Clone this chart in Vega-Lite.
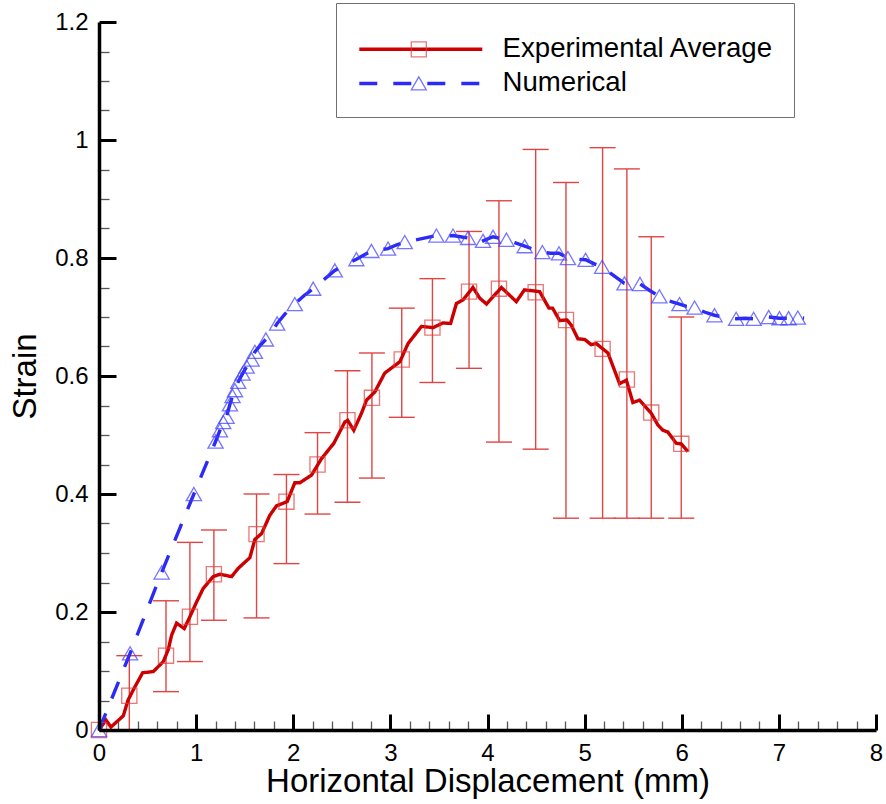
{
  "$schema": "https://vega.github.io/schema/vega-lite/v6.json",
  "width": 777,
  "height": 708,
  "autosize": {"type": "none"},
  "padding": {"left": 99, "top": 22, "right": 10, "bottom": 74},
  "background": "white",
  "config": {
    "view": {"stroke": null},
    "font": "Liberation Sans",
    "axis": {"grid": false, "labelOverlap": false}
  },
  "datasets": {
    "lines": [
      {"s": "Experimental Average", "x": 0, "y": 0},
      {"s": "Experimental Average", "x": 0.072, "y": 0.017},
      {"s": "Experimental Average", "x": 0.123, "y": 0.005},
      {"s": "Experimental Average", "x": 0.25, "y": 0.024},
      {"s": "Experimental Average", "x": 0.3, "y": 0.051},
      {"s": "Experimental Average", "x": 0.353, "y": 0.068},
      {"s": "Experimental Average", "x": 0.449, "y": 0.097},
      {"s": "Experimental Average", "x": 0.559, "y": 0.099},
      {"s": "Experimental Average", "x": 0.662, "y": 0.116},
      {"s": "Experimental Average", "x": 0.713, "y": 0.136},
      {"s": "Experimental Average", "x": 0.748, "y": 0.161},
      {"s": "Experimental Average", "x": 0.799, "y": 0.181},
      {"s": "Experimental Average", "x": 0.878, "y": 0.172},
      {"s": "Experimental Average", "x": 0.936, "y": 0.192},
      {"s": "Experimental Average", "x": 1.005, "y": 0.217},
      {"s": "Experimental Average", "x": 1.073, "y": 0.24},
      {"s": "Experimental Average", "x": 1.176, "y": 0.26},
      {"s": "Experimental Average", "x": 1.245, "y": 0.264},
      {"s": "Experimental Average", "x": 1.365, "y": 0.26},
      {"s": "Experimental Average", "x": 1.433, "y": 0.274},
      {"s": "Experimental Average", "x": 1.553, "y": 0.292},
      {"s": "Experimental Average", "x": 1.605, "y": 0.323},
      {"s": "Experimental Average", "x": 1.674, "y": 0.333},
      {"s": "Experimental Average", "x": 1.759, "y": 0.364},
      {"s": "Experimental Average", "x": 1.828, "y": 0.38},
      {"s": "Experimental Average", "x": 1.937, "y": 0.387},
      {"s": "Experimental Average", "x": 2.016, "y": 0.419},
      {"s": "Experimental Average", "x": 2.068, "y": 0.419},
      {"s": "Experimental Average", "x": 2.188, "y": 0.432},
      {"s": "Experimental Average", "x": 2.291, "y": 0.46},
      {"s": "Experimental Average", "x": 2.418, "y": 0.486},
      {"s": "Experimental Average", "x": 2.531, "y": 0.522},
      {"s": "Experimental Average", "x": 2.56, "y": 0.525},
      {"s": "Experimental Average", "x": 2.623, "y": 0.508},
      {"s": "Experimental Average", "x": 2.703, "y": 0.537},
      {"s": "Experimental Average", "x": 2.754, "y": 0.559},
      {"s": "Experimental Average", "x": 2.84, "y": 0.573},
      {"s": "Experimental Average", "x": 2.942, "y": 0.605},
      {"s": "Experimental Average", "x": 3.097, "y": 0.624},
      {"s": "Experimental Average", "x": 3.182, "y": 0.655},
      {"s": "Experimental Average", "x": 3.32, "y": 0.684},
      {"s": "Experimental Average", "x": 3.44, "y": 0.682},
      {"s": "Experimental Average", "x": 3.542, "y": 0.69},
      {"s": "Experimental Average", "x": 3.62, "y": 0.689},
      {"s": "Experimental Average", "x": 3.68, "y": 0.723},
      {"s": "Experimental Average", "x": 3.748, "y": 0.729},
      {"s": "Experimental Average", "x": 3.85, "y": 0.75},
      {"s": "Experimental Average", "x": 3.92, "y": 0.732},
      {"s": "Experimental Average", "x": 3.99, "y": 0.722},
      {"s": "Experimental Average", "x": 4.143, "y": 0.75},
      {"s": "Experimental Average", "x": 4.297, "y": 0.726},
      {"s": "Experimental Average", "x": 4.38, "y": 0.746},
      {"s": "Experimental Average", "x": 4.537, "y": 0.743},
      {"s": "Experimental Average", "x": 4.633, "y": 0.715},
      {"s": "Experimental Average", "x": 4.67, "y": 0.715},
      {"s": "Experimental Average", "x": 4.743, "y": 0.694},
      {"s": "Experimental Average", "x": 4.818, "y": 0.695},
      {"s": "Experimental Average", "x": 4.863, "y": 0.686},
      {"s": "Experimental Average", "x": 4.931, "y": 0.663},
      {"s": "Experimental Average", "x": 5.0, "y": 0.662},
      {"s": "Experimental Average", "x": 5.069, "y": 0.653},
      {"s": "Experimental Average", "x": 5.12, "y": 0.655},
      {"s": "Experimental Average", "x": 5.24, "y": 0.639},
      {"s": "Experimental Average", "x": 5.36, "y": 0.587},
      {"s": "Experimental Average", "x": 5.43, "y": 0.593},
      {"s": "Experimental Average", "x": 5.497, "y": 0.555},
      {"s": "Experimental Average", "x": 5.566, "y": 0.559},
      {"s": "Experimental Average", "x": 5.686, "y": 0.537},
      {"s": "Experimental Average", "x": 5.754, "y": 0.517},
      {"s": "Experimental Average", "x": 5.806, "y": 0.508},
      {"s": "Experimental Average", "x": 5.857, "y": 0.505},
      {"s": "Experimental Average", "x": 5.943, "y": 0.486},
      {"s": "Experimental Average", "x": 5.995, "y": 0.485},
      {"s": "Experimental Average", "x": 6.063, "y": 0.472},
      {"s": "Numerical", "x": 0, "y": 0},
      {"s": "Numerical", "x": 0.32, "y": 0.13},
      {"s": "Numerical", "x": 0.645, "y": 0.267},
      {"s": "Numerical", "x": 0.977, "y": 0.4},
      {"s": "Numerical", "x": 1.2, "y": 0.489},
      {"s": "Numerical", "x": 1.245, "y": 0.508},
      {"s": "Numerical", "x": 1.279, "y": 0.522},
      {"s": "Numerical", "x": 1.313, "y": 0.531},
      {"s": "Numerical", "x": 1.348, "y": 0.552},
      {"s": "Numerical", "x": 1.375, "y": 0.566},
      {"s": "Numerical", "x": 1.4, "y": 0.576},
      {"s": "Numerical", "x": 1.433, "y": 0.59},
      {"s": "Numerical", "x": 1.478, "y": 0.604},
      {"s": "Numerical", "x": 1.52, "y": 0.616},
      {"s": "Numerical", "x": 1.571, "y": 0.628},
      {"s": "Numerical", "x": 1.605, "y": 0.641},
      {"s": "Numerical", "x": 1.66, "y": 0.652},
      {"s": "Numerical", "x": 1.718, "y": 0.662},
      {"s": "Numerical", "x": 1.78, "y": 0.675},
      {"s": "Numerical", "x": 1.834, "y": 0.689},
      {"s": "Numerical", "x": 1.92, "y": 0.706},
      {"s": "Numerical", "x": 2.016, "y": 0.722},
      {"s": "Numerical", "x": 2.11, "y": 0.736},
      {"s": "Numerical", "x": 2.205, "y": 0.748},
      {"s": "Numerical", "x": 2.32, "y": 0.764},
      {"s": "Numerical", "x": 2.428, "y": 0.779},
      {"s": "Numerical", "x": 2.54, "y": 0.789},
      {"s": "Numerical", "x": 2.65, "y": 0.798},
      {"s": "Numerical", "x": 2.805, "y": 0.812},
      {"s": "Numerical", "x": 2.976, "y": 0.816},
      {"s": "Numerical", "x": 3.06, "y": 0.822},
      {"s": "Numerical", "x": 3.148, "y": 0.827},
      {"s": "Numerical", "x": 3.3, "y": 0.832},
      {"s": "Numerical", "x": 3.474, "y": 0.838},
      {"s": "Numerical", "x": 3.56, "y": 0.837},
      {"s": "Numerical", "x": 3.645, "y": 0.838},
      {"s": "Numerical", "x": 3.72, "y": 0.836},
      {"s": "Numerical", "x": 3.8, "y": 0.834},
      {"s": "Numerical", "x": 3.92, "y": 0.826},
      {"s": "Numerical", "x": 3.954, "y": 0.829},
      {"s": "Numerical", "x": 4.057, "y": 0.836},
      {"s": "Numerical", "x": 4.195, "y": 0.831},
      {"s": "Numerical", "x": 4.28, "y": 0.826},
      {"s": "Numerical", "x": 4.383, "y": 0.82},
      {"s": "Numerical", "x": 4.47, "y": 0.815},
      {"s": "Numerical", "x": 4.565, "y": 0.81},
      {"s": "Numerical", "x": 4.65, "y": 0.808},
      {"s": "Numerical", "x": 4.736, "y": 0.808},
      {"s": "Numerical", "x": 4.828, "y": 0.8},
      {"s": "Numerical", "x": 4.92, "y": 0.798},
      {"s": "Numerical", "x": 5.01, "y": 0.797},
      {"s": "Numerical", "x": 5.1, "y": 0.79},
      {"s": "Numerical", "x": 5.18, "y": 0.785},
      {"s": "Numerical", "x": 5.3, "y": 0.77},
      {"s": "Numerical", "x": 5.41, "y": 0.757},
      {"s": "Numerical", "x": 5.49, "y": 0.755},
      {"s": "Numerical", "x": 5.57, "y": 0.756},
      {"s": "Numerical", "x": 5.67, "y": 0.745},
      {"s": "Numerical", "x": 5.77, "y": 0.735},
      {"s": "Numerical", "x": 5.87, "y": 0.727},
      {"s": "Numerical", "x": 5.977, "y": 0.722},
      {"s": "Numerical", "x": 6.05, "y": 0.718},
      {"s": "Numerical", "x": 6.132, "y": 0.716},
      {"s": "Numerical", "x": 6.24, "y": 0.708},
      {"s": "Numerical", "x": 6.337, "y": 0.703},
      {"s": "Numerical", "x": 6.45, "y": 0.699},
      {"s": "Numerical", "x": 6.56, "y": 0.697},
      {"s": "Numerical", "x": 6.65, "y": 0.698},
      {"s": "Numerical", "x": 6.74, "y": 0.697},
      {"s": "Numerical", "x": 6.82, "y": 0.699},
      {"s": "Numerical", "x": 6.896, "y": 0.7},
      {"s": "Numerical", "x": 7.006, "y": 0.698},
      {"s": "Numerical", "x": 7.1, "y": 0.698},
      {"s": "Numerical", "x": 7.195, "y": 0.699},
      {"s": "Numerical", "x": 7.26, "y": 0.698}
    ],
    "err": [
      {"x": 0.312, "lo": 0, "hi": 0.126},
      {"x": 0.69, "lo": 0.065, "hi": 0.219},
      {"x": 0.936, "lo": 0.116, "hi": 0.318},
      {"x": 1.183, "lo": 0.186, "hi": 0.339},
      {"x": 1.622, "lo": 0.19, "hi": 0.4},
      {"x": 1.93, "lo": 0.282, "hi": 0.433},
      {"x": 2.25, "lo": 0.366, "hi": 0.504},
      {"x": 2.558, "lo": 0.386, "hi": 0.609},
      {"x": 2.81, "lo": 0.427, "hi": 0.639},
      {"x": 3.117, "lo": 0.53, "hi": 0.715},
      {"x": 3.433, "lo": 0.589, "hi": 0.765},
      {"x": 3.81, "lo": 0.613, "hi": 0.845},
      {"x": 4.118, "lo": 0.488, "hi": 0.897},
      {"x": 4.496, "lo": 0.476, "hi": 0.984},
      {"x": 4.808, "lo": 0.359, "hi": 0.928},
      {"x": 5.185, "lo": 0.359, "hi": 0.987},
      {"x": 5.435, "lo": 0.359, "hi": 0.951},
      {"x": 5.686, "lo": 0.359, "hi": 0.836},
      {"x": 5.995, "lo": 0.359, "hi": 0.7}
    ],
    "markers": [
      {"m": "sq", "x": 0, "y": 0},
      {"m": "sq", "x": 0.312, "y": 0.058},
      {"m": "sq", "x": 0.69, "y": 0.126},
      {"m": "sq", "x": 0.936, "y": 0.192},
      {"m": "sq", "x": 1.183, "y": 0.264},
      {"m": "sq", "x": 1.622, "y": 0.332},
      {"m": "sq", "x": 1.93, "y": 0.387},
      {"m": "sq", "x": 2.25, "y": 0.45},
      {"m": "sq", "x": 2.558, "y": 0.525},
      {"m": "sq", "x": 2.81, "y": 0.563},
      {"m": "sq", "x": 3.117, "y": 0.628},
      {"m": "sq", "x": 3.433, "y": 0.682},
      {"m": "sq", "x": 3.81, "y": 0.743},
      {"m": "sq", "x": 4.118, "y": 0.748},
      {"m": "sq", "x": 4.496, "y": 0.742},
      {"m": "sq", "x": 4.808, "y": 0.695},
      {"m": "sq", "x": 5.185, "y": 0.646},
      {"m": "sq", "x": 5.435, "y": 0.594},
      {"m": "sq", "x": 5.686, "y": 0.538},
      {"m": "sq", "x": 5.995, "y": 0.485},
      {"m": "tri", "x": 0, "y": 0},
      {"m": "tri", "x": 0.32, "y": 0.13},
      {"m": "tri", "x": 0.645, "y": 0.267},
      {"m": "tri", "x": 0.977, "y": 0.4},
      {"m": "tri", "x": 1.2, "y": 0.489},
      {"m": "tri", "x": 1.245, "y": 0.508},
      {"m": "tri", "x": 1.279, "y": 0.522},
      {"m": "tri", "x": 1.313, "y": 0.531},
      {"m": "tri", "x": 1.348, "y": 0.552},
      {"m": "tri", "x": 1.375, "y": 0.566},
      {"m": "tri", "x": 1.4, "y": 0.576},
      {"m": "tri", "x": 1.433, "y": 0.59},
      {"m": "tri", "x": 1.478, "y": 0.604},
      {"m": "tri", "x": 1.52, "y": 0.616},
      {"m": "tri", "x": 1.571, "y": 0.628},
      {"m": "tri", "x": 1.605, "y": 0.641},
      {"m": "tri", "x": 1.718, "y": 0.662},
      {"m": "tri", "x": 1.834, "y": 0.689},
      {"m": "tri", "x": 2.016, "y": 0.722},
      {"m": "tri", "x": 2.205, "y": 0.748},
      {"m": "tri", "x": 2.428, "y": 0.779},
      {"m": "tri", "x": 2.65, "y": 0.798},
      {"m": "tri", "x": 2.805, "y": 0.812},
      {"m": "tri", "x": 2.976, "y": 0.816},
      {"m": "tri", "x": 3.148, "y": 0.827},
      {"m": "tri", "x": 3.474, "y": 0.838},
      {"m": "tri", "x": 3.645, "y": 0.838},
      {"m": "tri", "x": 3.8, "y": 0.834},
      {"m": "tri", "x": 3.954, "y": 0.829},
      {"m": "tri", "x": 4.057, "y": 0.836},
      {"m": "tri", "x": 4.195, "y": 0.831},
      {"m": "tri", "x": 4.383, "y": 0.82},
      {"m": "tri", "x": 4.565, "y": 0.81},
      {"m": "tri", "x": 4.736, "y": 0.808},
      {"m": "tri", "x": 4.828, "y": 0.8},
      {"m": "tri", "x": 5.01, "y": 0.797},
      {"m": "tri", "x": 5.18, "y": 0.785},
      {"m": "tri", "x": 5.41, "y": 0.757},
      {"m": "tri", "x": 5.57, "y": 0.756},
      {"m": "tri", "x": 5.77, "y": 0.735},
      {"m": "tri", "x": 5.977, "y": 0.722},
      {"m": "tri", "x": 6.132, "y": 0.716},
      {"m": "tri", "x": 6.337, "y": 0.703},
      {"m": "tri", "x": 6.56, "y": 0.697},
      {"m": "tri", "x": 6.74, "y": 0.697},
      {"m": "tri", "x": 6.896, "y": 0.7},
      {"m": "tri", "x": 7.006, "y": 0.698},
      {"m": "tri", "x": 7.1, "y": 0.698},
      {"m": "tri", "x": 7.195, "y": 0.699}
    ]
  },
  "layer": [
    {
      "data": {"name": "err"},
      "mark": {"type": "rule", "color": "#e04545", "strokeWidth": 1.4},
      "encoding": {
        "x": {
          "field": "x", "type": "quantitative", "title": "Horizontal Displacement (mm)",
          "scale": {"domain": [0, 8], "nice": false, "zero": false},
          "axis": {
            "values": [0,0.2,0.4,0.6,0.8,1,1.2,1.4,1.6,1.8,2,2.2,2.4,2.6,2.8,3,3.2,3.4,3.6,3.8,4,4.2,4.4,4.6,4.8,5,5.2,5.4,5.6,5.8,6,6.2,6.4,6.6,6.8,7,7.2,7.4,7.6,7.8,8],
            "tickCount": 1000,
            "format": "~g",
            "labelExpr": "abs(datum.value - round(datum.value)) < 0.000001 ? datum.label : ''",
            "tickSize": {"condition": {"test": "abs(datum.value - round(datum.value)) > 0.000001", "value": -9}, "value": -16},
            "tickWidth": {"condition": {"test": "abs(datum.value - round(datum.value)) > 0.000001", "value": 1.3}, "value": 3},
            "tickColor": {"condition": {"test": "abs(datum.value - round(datum.value)) > 0.000001", "value": "#555555"}, "value": "#000000"},
            "domainColor": "#000000", "domainWidth": 3.5,
            "labelFontSize": 24, "labelColor": "#000000", "labelPadding": 27.5,
            "labelFlush": false, "labelOverlap": false,
            "titleFontSize": 33, "titleFontWeight": "normal", "titleColor": "#000000", "titlePadding": -7,
            "zindex": 1
          }
        },
        "y": {
          "field": "lo", "type": "quantitative", "title": "Strain",
          "scale": {"domain": [0, 1.2], "nice": false},
          "axis": {
            "values": [0,0.05,0.1,0.15,0.2,0.25,0.3,0.35,0.4,0.45,0.5,0.55,0.6,0.65,0.7,0.75,0.8,0.85,0.9,0.95,1,1.05,1.1,1.15,1.2],
            "tickCount": 1000,
            "format": "~g",
            "labelExpr": "abs(datum.value*5 - round(datum.value*5)) < 0.000001 ? datum.label : ''",
            "tickSize": {"condition": {"test": "abs(datum.value*5 - round(datum.value*5)) > 0.000001", "value": -10}, "value": -17},
            "tickWidth": {"condition": {"test": "abs(datum.value*5 - round(datum.value*5)) > 0.000001", "value": 1.3}, "value": 3},
            "tickColor": {"condition": {"test": "abs(datum.value*5 - round(datum.value*5)) > 0.000001", "value": "#555555"}, "value": "#000000"},
            "domainColor": "#000000", "domainWidth": 3.5,
            "labelFontSize": 24, "labelColor": "#000000", "labelPadding": 28,
            "labelFlush": false, "labelOverlap": false,
            "titleFontSize": 33, "titleFontWeight": "normal", "titleColor": "#000000", "titlePadding": 12,
            "zindex": 1
          }
        },
        "y2": {"field": "hi"}
      }
    },
    {
      "data": {"name": "err"},
      "mark": {"type": "tick", "orient": "horizontal", "color": "#e04545", "size": 26, "thickness": 1.4, "opacity": 1},
      "encoding": {
        "x": {"field": "x", "type": "quantitative", "title": "Horizontal Displacement (mm)"},
        "y": {"field": "lo", "type": "quantitative", "title": "Strain"}
      }
    },
    {
      "data": {"name": "err"},
      "mark": {"type": "tick", "orient": "horizontal", "color": "#e04545", "size": 26, "thickness": 1.4, "opacity": 1},
      "encoding": {
        "x": {"field": "x", "type": "quantitative", "title": "Horizontal Displacement (mm)"},
        "y": {"field": "hi", "type": "quantitative", "title": "Strain"}
      }
    },
    {
      "data": {"name": "lines"},
      "mark": {"type": "line", "strokeWidth": 3.4},
      "encoding": {
        "x": {"field": "x", "type": "quantitative", "title": "Horizontal Displacement (mm)"},
        "y": {"field": "y", "type": "quantitative", "title": "Strain"},
        "color": {
          "field": "s", "type": "nominal",
          "scale": {"domain": ["Experimental Average", "Numerical"], "range": ["#cc0000", "#2b2bf5"]},
          "legend": {
            "orient": "none", "legendX": 237, "legendY": -19, "direction": "vertical",
            "title": " ", "titleFontSize": 10, "titlePadding": 2.5,
            "padding": 20, "strokeColor": "#707070",
            "symbolType": "M-8.2,0H8.2", "symbolSize": 225, "symbolStrokeWidth": 3.5, "symbolOffset": 51,
            "labelOffset": 68, "labelFontSize": 27.6, "labelColor": "#000000", "labelLimit": 500,
            "rowPadding": 5.1
          }
        },
        "strokeDash": {
          "field": "s", "type": "nominal",
          "scale": {"domain": ["Experimental Average", "Numerical"], "range": [[1, 0], [18, 16]]},
          "legend": {
            "orient": "none", "legendX": 237, "legendY": -19, "direction": "vertical",
            "title": " ", "titleFontSize": 10, "titlePadding": 2.5,
            "padding": 20, "strokeColor": "#707070",
            "symbolType": "M-8.2,0H8.2", "symbolSize": 225, "symbolStrokeWidth": 3.5, "symbolOffset": 51,
            "labelOffset": 68, "labelFontSize": 27.6, "labelColor": "#000000", "labelLimit": 500,
            "rowPadding": 5.1
          }
        }
      }
    },
    {
      "data": {"name": "markers"},
      "mark": {"type": "point", "filled": false, "size": 230, "strokeWidth": 1.3},
      "encoding": {
        "x": {"field": "x", "type": "quantitative", "title": "Horizontal Displacement (mm)"},
        "y": {"field": "y", "type": "quantitative", "title": "Strain"},
        "shape": {
          "field": "m", "type": "nominal",
          "scale": {"domain": ["sq", "tri"], "range": ["square", "triangle-up"]},
          "legend": {
            "orient": "none", "legendX": 237, "legendY": -19, "direction": "vertical",
            "title": " ", "titleFontSize": 10, "titlePadding": 2.5,
            "padding": 20, "symbolSize": 225, "symbolStrokeWidth": 1.3, "symbolOffset": 49,
            "labelOffset": 68, "labelFontSize": 27.6, "labelExpr": "''", "labelLimit": 500,
            "rowPadding": 5.1
          }
        },
        "stroke": {
          "field": "m", "type": "nominal",
          "scale": {"domain": ["sq", "tri"], "range": ["#e43c3c", "#3c3cff"]},
          "legend": {
            "orient": "none", "legendX": 237, "legendY": -19, "direction": "vertical",
            "title": " ", "titleFontSize": 10, "titlePadding": 2.5,
            "padding": 20, "symbolSize": 225, "symbolStrokeWidth": 1.3, "symbolOffset": 49,
            "labelOffset": 68, "labelFontSize": 27.6, "labelExpr": "''", "labelLimit": 500,
            "rowPadding": 5.1
          }
        }
      }
    }
  ]
}
